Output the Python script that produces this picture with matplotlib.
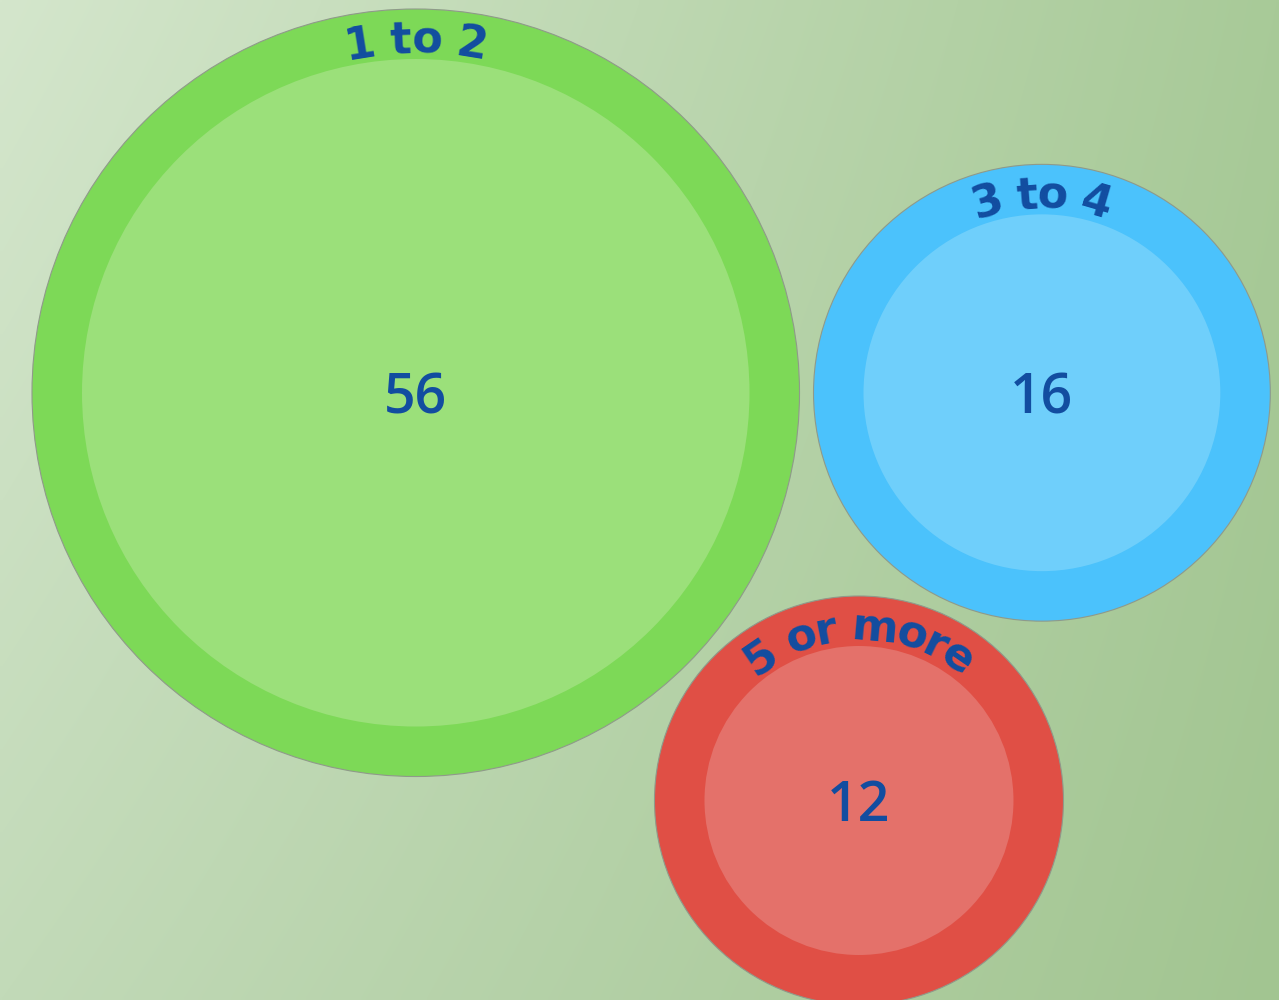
import numpy as np
import matplotlib.pyplot as plt
from matplotlib.patches import Circle
from matplotlib.font_manager import FontProperties

# ---------------------------------------------------------------
# Dados
# ---------------------------------------------------------------
categorias = ['1 to 2', '3 to 4', '5 or more']
valores = [56, 16, 12]

cores_borda = ['#7dd957', '#4bc2fc', '#e04f45']
cores_miolo = ['#9be07a', '#6fcffb', '#e4716a']
cor_texto = '#124da0'

# cantos do fundo (sup-esq, sup-dir, inf-esq, inf-dir)
fundo_cantos = ['#d4e6cc', '#a8ca98', '#c2dab8', '#a2c591']

W, H = 1279, 1000
BORDA = 50        # largura do anel externo (px)
FOLGA = 14        # espaco entre as bolhas (px)


def raio(v):
    return 50 + 44.6 * np.sqrt(v)


def hex_rgb(c):
    c = c.lstrip('#')
    return np.array([int(c[i:i + 2], 16) for i in (0, 2, 4)]) / 255.0


# ---------------------------------------------------------------
# Layout: tres bolhas mutuamente tangentes
# ---------------------------------------------------------------
r = [raio(v) for v in valores]
d01 = r[0] + r[1] + FOLGA
d02 = r[0] + r[2] + FOLGA
d12 = r[1] + r[2] + FOLGA
x2 = (d02 ** 2 - d12 ** 2 + d01 ** 2) / (2 * d01)
y2 = np.sqrt(d02 ** 2 - x2 ** 2)
centros = [(0.0, 0.0), (d01, 0.0), (x2, y2)]

esq = min(c[0] - rr for c, rr in zip(centros, r))
topo = min(c[1] - rr for c, rr in zip(centros, r))

fig = plt.figure(figsize=(W / 100, H / 100), dpi=100)
ax = fig.add_axes([0, 0, 1, 1])
x0 = esq - 32
y0 = topo - 9
ax.set_xlim(x0, x0 + W)
ax.set_ylim(y0 + H, y0)
ax.set_aspect('equal')
ax.axis('off')

# fundo em gradiente (bilinear)
cs = [hex_rgb(c) for c in fundo_cantos]
u = np.linspace(0, 1, 256)[None, :, None]
v = np.linspace(0, 1, 200)[:, None, None]
grad = (cs[0] * (1 - u) * (1 - v) + cs[1] * u * (1 - v)
        + cs[2] * (1 - u) * v + cs[3] * u * v)
ax.imshow(grad, extent=(x0, x0 + W, y0 + H, y0), aspect='auto', zorder=0,
          interpolation='bilinear')

fp_rot = FontProperties(family='DejaVu Sans', weight='bold',
                        style='normal', size=32)
fp_val = FontProperties(family=['Open Sans', 'DejaVu Sans'], weight='semibold',
                        style='normal', size=40)

renderer = fig.canvas.get_renderer()


def largura(s):
    return renderer.get_text_width_height_descent(s, fp_rot, ismath=False)[0]


esp = largura('a a') - largura('aa')
cap = renderer.get_text_width_height_descent('H', fp_rot, ismath=False)[1]
cap_val = renderer.get_text_width_height_descent('5', fp_val, ismath=False)[1]


def texto_arco(texto, cx, cy, r_base):
    adv = [esp if ch == ' ' else largura(ch) for ch in texto]
    total = sum(adv)
    r_meio = r_base + cap / 2
    s = -total / 2
    for ch, a in zip(texto, adv):
        meio = s + a / 2
        s += a
        if ch == ' ':
            continue
        th = meio / r_meio
        x = cx + r_base * np.sin(th)
        y = cy - r_base * np.cos(th)
        ax.text(x, y, ch, fontproperties=fp_rot, color=cor_texto,
                ha='center', va='baseline', rotation=-np.degrees(th),
                rotation_mode='anchor', zorder=5)


for cat, val, (cx, cy), rr, cb, cm in zip(categorias, valores, centros, r,
                                          cores_borda, cores_miolo):
    ax.add_patch(Circle((cx, cy), rr, facecolor=cb, edgecolor='#8f9a8a',
                        linewidth=0.8, zorder=2))
    ax.add_patch(Circle((cx, cy), rr - BORDA, facecolor=cm, edgecolor='none',
                        zorder=3))
    ax.text(cx, cy + cap_val / 2, str(val), fontproperties=fp_val,
            color=cor_texto, ha='center', va='baseline', zorder=5)
    texto_arco(cat, cx, cy, rr - BORDA + 6)

fig.savefig('out.png', dpi=100)
